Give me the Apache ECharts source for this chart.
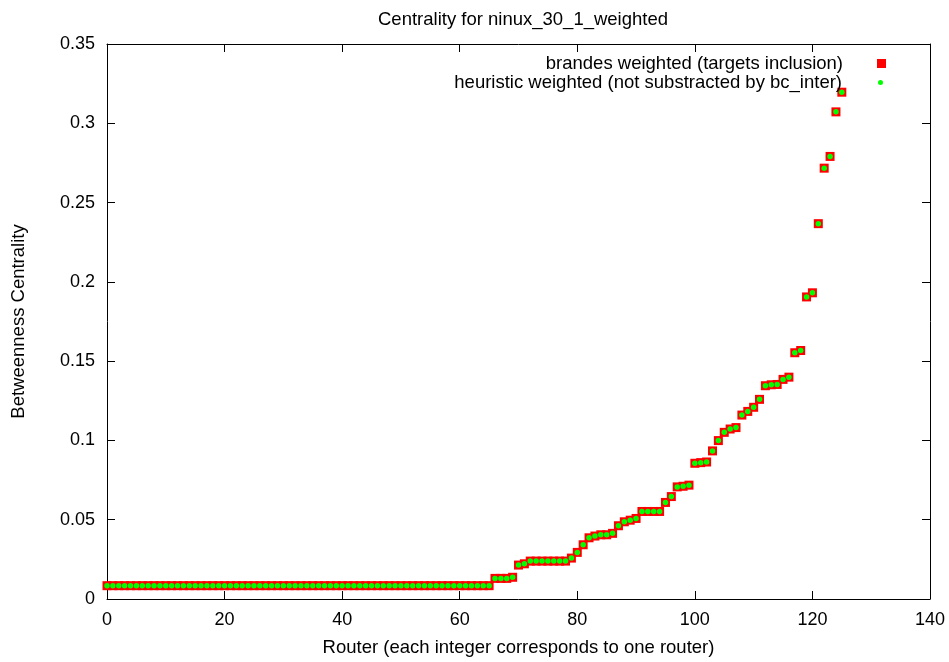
<!DOCTYPE html>
<html>
<head>
<meta charset="utf-8">
<script src="https://cdn.jsdelivr.net/npm/echarts@6/dist/echarts.min.js"></script>
<style>
  html, body { margin: 0; padding: 0; background: #fff; }
  #chart { width: 949px; height: 662px; }
</style>
</head>
<body>
<div id="chart"></div>
<script>
// betweenness centrality per router (router id = array index)
const centrality = [
  0.0084, 0.0084, 0.0084, 0.0084, 0.0084, 0.0084, 0.0084, 0.0084, 0.0084, 0.0084,
  0.0084, 0.0084, 0.0084, 0.0084, 0.0084, 0.0084, 0.0084, 0.0084, 0.0084, 0.0084,
  0.0084, 0.0084, 0.0084, 0.0084, 0.0084, 0.0084, 0.0084, 0.0084, 0.0084, 0.0084,
  0.0084, 0.0084, 0.0084, 0.0084, 0.0084, 0.0084, 0.0084, 0.0084, 0.0084, 0.0084,
  0.0084, 0.0084, 0.0084, 0.0084, 0.0084, 0.0084, 0.0084, 0.0084, 0.0084, 0.0084,
  0.0084, 0.0084, 0.0084, 0.0084, 0.0084, 0.0084, 0.0084, 0.0084, 0.0084, 0.0084,
  0.0084, 0.0084, 0.0084, 0.0084, 0.0084, 0.0084,
  0.0130, 0.0130, 0.0130, 0.0137,              // 66-69
  0.0214, 0.0222,                              // 70-71
  0.0239, 0.0239, 0.0239, 0.0239, 0.0239, 0.0239, 0.0239, // 72-78
  0.0258, 0.0294, 0.0342, 0.0386, 0.0397,      // 79-83
  0.0405, 0.0405, 0.0414, 0.0462, 0.0487,      // 84-88
  0.0497, 0.0508, 0.0552, 0.0552, 0.0552,      // 89-93
  0.0552, 0.0609, 0.0646, 0.0707, 0.0711,      // 94-98
  0.0718, 0.0856, 0.0860, 0.0864, 0.0934,      // 99-103
  0.0999, 0.1051, 0.1072, 0.1081, 0.1160,      // 104-108
  0.1183, 0.1209, 0.1259, 0.1345, 0.1351,      // 109-113
  0.1353, 0.1385, 0.1399, 0.1553, 0.1567,      // 114-118
  0.1905, 0.1931, 0.2367, 0.2717, 0.2791,      // 119-123
  0.3072, 0.3196                               // 124-125
];

const seriesNames = [
  'brandes weighted (targets inclusion)',
  'heuristic weighted (not substracted by bc_inter)'
];

const xTicks = { min: 0, max: 140, step: 20 };
const yTicks = { min: 0, max: 0.35, step: 0.05 };

const points = centrality.map((v, i) => [i, v]);

const font = 'Liberation Sans, Arial, sans-serif';
const black = '#000';

function axisBase(ticks, pos, showLabels) {
  return {
    type: 'value',
    position: pos,
    min: ticks.min,
    max: ticks.max,
    interval: ticks.step,
    splitLine: { show: false },
    axisLine: { show: true, onZero: false, lineStyle: { color: black, width: 1 } },
    axisTick: { show: true, inside: true, length: 8, lineStyle: { color: black } },
    axisLabel: { show: showLabels, color: black, fontFamily: font, fontSize: 18, margin: 12 }
  };
}

const chart = echarts.init(document.getElementById('chart'), null, { renderer: 'canvas' });

chart.setOption({
  animation: false,
  backgroundColor: '#fff',
  title: {
    text: 'Centrality for ninux_30_1_weighted',
    left: 518,
    textAlign: 'center',
    top: 5,
    textStyle: { fontFamily: font, fontSize: 18.5, fontWeight: 'normal', color: black }
  },
  grid: { left: 107, right: 19, top: 44, bottom: 62 },
  legend: [
    {
      data: [seriesNames[0]],
      right: 58,
      top: 49,
      align: 'right',
      itemWidth: 9,
      itemHeight: 9,
      icon: 'rect',
      selectedMode: false,
      textStyle: { fontFamily: font, fontSize: 18.5, color: black, padding: [0, 29, 0, 0] }
    },
    {
      data: [seriesNames[1]],
      right: 61,
      top: 68,
      align: 'right',
      itemWidth: 5,
      itemHeight: 5,
      icon: 'circle',
      selectedMode: false,
      textStyle: { fontFamily: font, fontSize: 18.5, color: black, padding: [0, 31, 0, 0] }
    }
  ],
  xAxis: [
    Object.assign(axisBase(xTicks, 'bottom', true), {
      name: 'Router (each integer corresponds to one router)',
      nameLocation: 'middle',
      nameGap: 39,
      nameTextStyle: { fontFamily: font, fontSize: 18.5, color: black }
    }),
    axisBase(xTicks, 'top', false)
  ],
  yAxis: [
    Object.assign(axisBase(yTicks, 'left', true), {
      name: 'Betweenness Centrality',
      nameLocation: 'middle',
      nameGap: 79,
      nameTextStyle: { fontFamily: font, fontSize: 18.5, color: black }
    }),
    axisBase(yTicks, 'right', false)
  ],
  series: [
    {
      name: seriesNames[0],
      type: 'scatter',
      data: points,
      symbol: 'rect',
      symbolSize: 9,
      itemStyle: { color: '#ff0000', opacity: 1 },
      emphasis: { disabled: true },
      z: 2
    },
    {
      name: seriesNames[1],
      type: 'scatter',
      data: points,
      symbol: 'circle',
      symbolSize: 5.5,
      itemStyle: { color: '#00ff00', opacity: 1 },
      emphasis: { disabled: true },
      z: 3
    }
  ]
});
</script>
</body>
</html>
